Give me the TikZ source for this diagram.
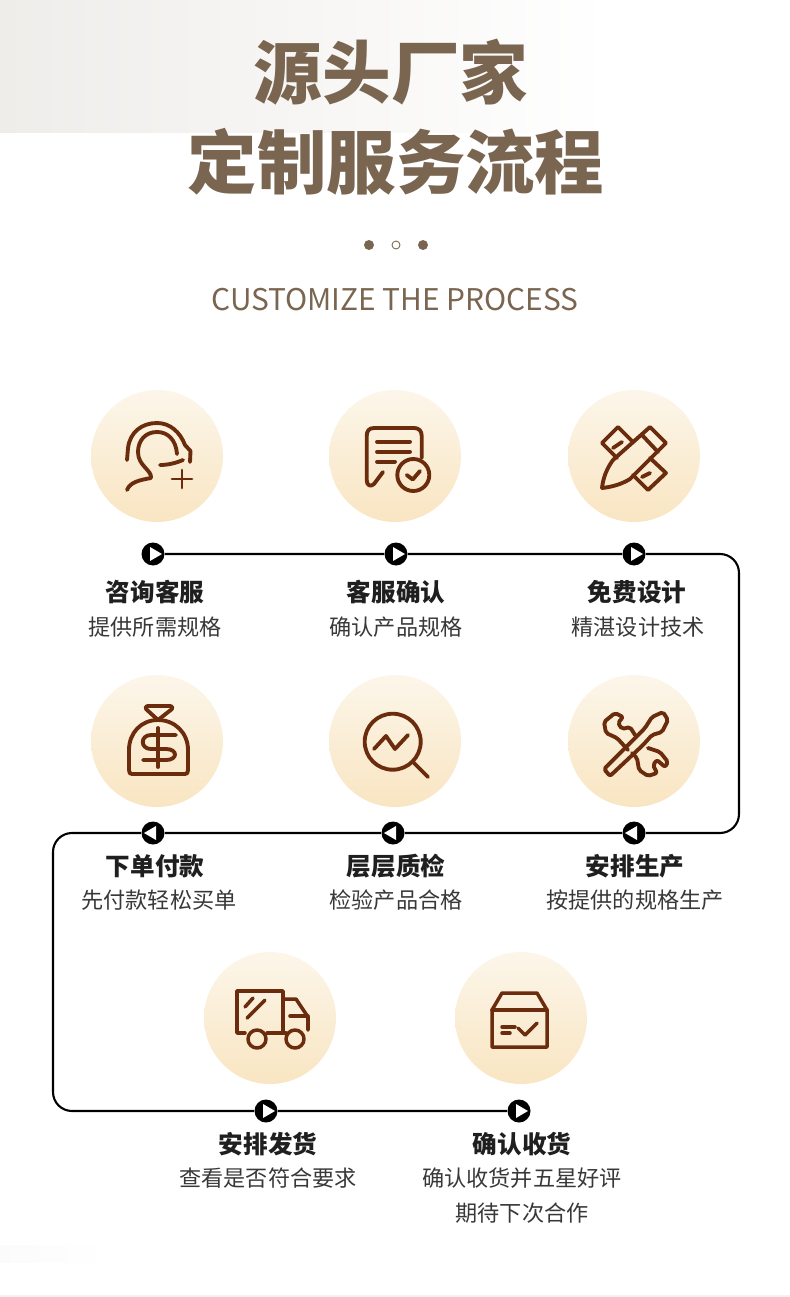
\documentclass[tikz,border=0pt]{standalone}
\usepackage{fontspec}
\setmainfont{Noto Sans CJK SC}
\newfontfamily\cjk{Noto Sans CJK SC}
\newcommand{\pxsize}[1]{\fontsize{#1}{#1}\selectfont}
\definecolor{titlebrown}{HTML}{7A6650}
\definecolor{iconbrown}{HTML}{6B2C0E}
\definecolor{discfrom}{HTML}{FCF6EA}
\definecolor{discto}{HTML}{F9E5C2}
\definecolor{bandgrey}{HTML}{EFEDEA}
\tikzset{
  disc/.style={circle,minimum size=2.64cm,inner sep=0pt,shade,top color=discfrom,bottom color=discto},
  flowmark/.style={circle,fill=black,minimum size=0.46cm,inner sep=0pt},
  flowline/.style={line width=1.2pt,rounded corners=0.38cm},
  icon/.style={draw=iconbrown,line width=2.2pt,line cap=round,line join=round},
  steptitle/.style={font=\cjk\bfseries\pxsize{14pt},text=black!88},
  stepnote/.style={font=\cjk\pxsize{12.6pt},text=black!78},
}
\begin{document}
\begin{tikzpicture}[x=0.02cm,y=-0.02cm]
  \useasboundingbox (0,0) rectangle (790,1297);
  % top band and bottom edge
  \shade[left color=bandgrey,right color=white] (0,0) rectangle (610,133);
  \shade[left color=black!1.5,right color=white] (0,1245) rectangle (110,1262);
  \fill[black!5] (0,1295) rectangle (790,1297);
  % heading
  \node[font=\cjk\bfseries\pxsize{39pt},text=titlebrown] (head1) at (391,72) {源头厂家};
  \node[font=\cjk\bfseries\pxsize{39.5pt},text=titlebrown] (head2) at (396,162) {定制服务流程};
  \fill[titlebrown] (369,245) circle (5);
  \draw[titlebrown,line width=0.5pt] (396,245) circle (4);
  \fill[titlebrown] (423,245) circle (5);
  \node[font=\cjk\pxsize{17pt},text=titlebrown] (sub) at (395,300) {CUSTOMIZE THE PROCESS};
  % discs
  \foreach \name/\x/\y in {d1/157/456,d2/395/456,d3/634/456,d4/157/741,d5/395/741,d6/634/741,d7/270/1018,d8/521/1018}
    \node[disc] (\name) at (\x,\y) {};
  % flow markers
  \foreach \name/\x/\y in {m1/153/554,m2/396/554,m3/634/554,m4/153/833,m5/393/833,m6/634/833,m7/266/1111,m8/519/1111}
    \node[flowmark] (\name) at (\x,\y) {};
  \coordinate (ca) at (739,554);
  \coordinate (cb) at (739,833);
  \coordinate (cc) at (53,833);
  \coordinate (cd) at (53,1111);
  \draw[flowline] (m1) -- (m2) -- (m3) -- (ca) -- (cb) -- (m6) -- (m5) -- (m4) -- (cc) -- (cd) -- (m7) -- (m8);
  % triangles in the markers
  \foreach \name in {m1,m2,m3,m7,m8}
    \fill[white] (\name) ++(-3,-7) -- ++(12,7) -- ++(-12,7) -- cycle;
  \foreach \name in {m4,m5,m6}
    \fill[white] (\name) ++(3,-7) -- ++(-12,7) -- ++(12,7) -- cycle;
  % labels
  \foreach \name/\x/\y/\nx/\ny/\top/\low in {a/155/592/155/627/咨询客服/提供所需规格,b/396/592/396/627/客服确认/确认产品规格,c/637/592/638/627/免费设计/精湛设计技术,e/155/866/159/900/下单付款/先付款轻松买单,f/396/866/396/900/层层质检/检验产品合格,g/635/866/635/900/安排生产/按提供的规格生产,h/268/1144/268/1178/安排发货/查看是否符合要求,i/522/1144/522/1178/确认收货/确认收货并五星好评}{
    \node[steptitle] (t\name) at (\x,\y) {\top};
    \node[stepnote] (n\name) at (\nx,\ny) {\low};
  }
  \node[stepnote] (ni2) at (522,1213) {期待下次合作};
  % headset icon
  \draw[icon] (127,460) -- (128,448) .. controls (130,432) and (142,423) .. (157,423) .. controls (170,423) and (180,432) .. (185,445) -- (190.5,451) -- (190,462);
  \draw[icon] (177,454) .. controls (176,440) and (168,432) .. (157,432) .. controls (145,432) and (138,441) .. (138,452) .. controls (138,466) and (152,470) .. (151,478) .. controls (140,480) and (130,482) .. (127,490);
  \draw[icon] (160,465) .. controls (168,465) and (176,463) .. (183,460);
  \draw[icon,line width=1.6pt] (182,470) -- (182,488) (172,479) -- (192,479);
  % form icon
  \draw[icon] (421.7,458) -- (421.7,436) .. controls (421.7,431) and (419,428) .. (414,428) -- (374,428) .. controls (369,428) and (366.7,431) .. (366.7,436) -- (366.7,480) .. controls (366.7,486) and (371,487) .. (374,484) -- (383,472);
  \draw[icon] (377,441.7) -- (410,441.7) (377,451.7) -- (410,451.7) (377,461.7) -- (395,461.7);
  \draw[icon] (413.3,475) circle (16);
  \draw[icon] (406.7,475) -- (412.7,479.5) -- (420,471);
  % pencil and ruler icon
  \draw[icon] (650,427) -- (666,443) -- (630,479) .. controls (622,484) and (612,487) .. (602,488) .. controls (603,478) and (607,468) .. (613,460) -- cycle;
  \draw[icon] (633,442) -- (618,427) -- (602,443) -- (617,458);
  \draw[icon] (613,448) -- (622,442) (642,435) -- (658,452);
  \draw[icon] (650,458) -- (666,473) -- (648,490) -- (633,475);
  \draw[icon] (642,477) -- (650,473);
  % money bag icon
  \draw[icon] (158,720) -- (146,709) .. controls (145,707) and (146,706) .. (148,706) -- (170,706) .. controls (172,706) and (173,707) .. (172,709) -- cycle;
  \draw[icon] (158,720) .. controls (175,720) and (188,733) .. (188,750) -- (188,770) .. controls (188,773) and (187,774) .. (185,774) -- (132,774) .. controls (130,774) and (129,773) .. (129,770) -- (129,750) .. controls (129,733) and (141,720) .. (158,720);
  \draw[icon] (176,735) -- (151,735) .. controls (140,735) and (140,749) .. (151,749) -- (166,749) .. controls (178,749) and (178,760) .. (166,760) -- (143,760);
  \draw[icon] (158,728) -- (158,767);
  % magnifier icon
  \draw[icon] (392.7,741.7) circle (28);
  \draw[icon] (413,762) -- (428,777);
  \draw[icon] (374,749) -- (386,736) -- (395,749) -- (408,735);
  % tools icon
  \draw[icon,rounded corners=0.04cm] (610,776) -- (604,769) -- (645,728) -- (652,717) -- (663,712) -- (668,720) -- (662,732) -- (652,735) -- (643,745) -- cycle;
  \draw[icon,rounded corners=0.04cm] (635,735) -- (630,727) -- (622,729) -- (618,723) -- (623,717) -- (615,713) -- (604,722) -- (606,733) -- (617,738) -- (628,750);
  \draw[icon,rounded corners=0.04cm] (648,748) -- (660,752) -- (668,762) -- (665,767) -- (657,760) -- (653,765) -- (657,773) -- (648,776) -- (639,770) -- (637,758) -- (632,753);
  % truck icon
  \draw[icon,line width=2pt] (245,1033) -- (237,1033) -- (237,991) -- (283,991) -- (283,1033) -- (267,1033);
  \draw[icon,line width=2pt] (283,999) -- (296,999) -- (308,1017) -- (308,1030);
  \draw[icon,line width=2pt] (290,1016) -- (308,1016);
  \draw[icon,line width=2pt] (283,1033) -- (286,1033);
  \draw[icon,line width=2pt] (257,1039) circle (9);
  \draw[icon,line width=2pt] (295,1039) circle (9);
  \draw[icon,line width=2pt] (245,1007) -- (253,998) (247,1018) -- (265,1000);
  % parcel icon
  \draw[icon,line width=2pt] (492,1010) -- (502,993) -- (537,993) -- (547,1010) -- (547,1047) -- (492,1047) -- cycle;
  \draw[icon,line width=2pt] (492,1010) -- (547,1010);
  \draw[icon,line width=2pt] (502,1027) -- (515,1027) (502,1033) -- (510,1033);
  \draw[icon,line width=2pt] (518,1028) -- (525,1035) -- (537,1023);
\end{tikzpicture}
\end{document}
